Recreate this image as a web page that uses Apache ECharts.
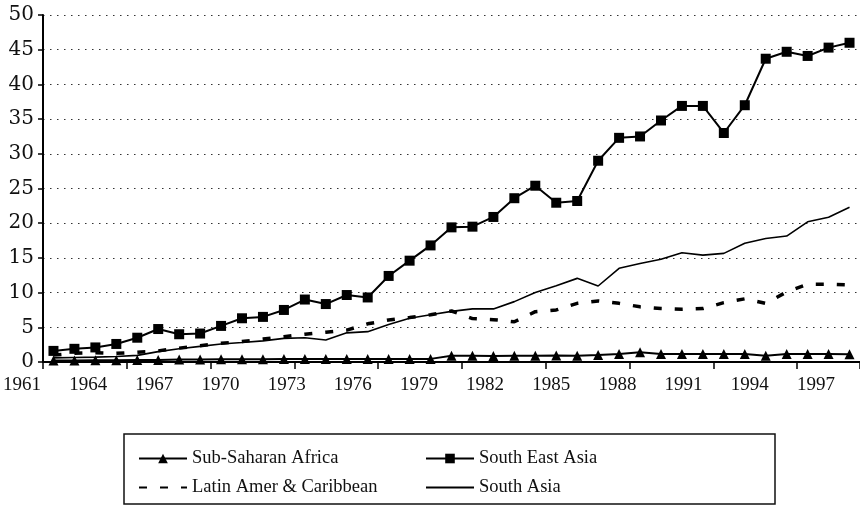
<html>
<head>
<meta charset="utf-8">
<title>Chart</title>
<script src="https://cdn.jsdelivr.net/npm/echarts@6/dist/echarts.min.js"></script>
<style>
body{margin:0;background:#fff;overflow:hidden;}
#main{width:860px;height:506px;}
</style>
</head>
<body>
<div id="main"></div>
<script type="text/javascript">
  var years = ['1961','1962','1963','1964','1965','1966','1967','1968','1969','1970',
    '1971','1972','1973','1974','1975','1976','1977','1978','1979','1980',
    '1981','1982','1983','1984','1985','1986','1987','1988','1989','1990',
    '1991','1992','1993','1994','1995','1996','1997','1998','1999'];

  var subSaharan = [0.2,0.2,0.25,0.25,0.3,0.3,0.35,0.35,0.4,0.4,
    0.4,0.45,0.45,0.45,0.45,0.45,0.45,0.45,0.45,0.9,
    0.9,0.85,0.9,0.9,0.95,0.9,1.0,1.15,1.4,1.15,
    1.15,1.15,1.15,1.15,0.9,1.15,1.15,1.15,1.1];

  var southEastAsia = [1.6,1.9,2.1,2.6,3.5,4.75,4.0,4.1,5.2,6.3,
    6.5,7.5,9.0,8.35,9.65,9.3,12.4,14.6,16.8,19.4,
    19.5,20.9,23.6,25.4,22.95,23.2,29.0,32.3,32.5,34.8,
    36.9,36.9,33.0,37.0,43.7,44.7,44.1,45.3,46.0];

  var latinAmer = [1.0,1.25,1.35,1.25,1.4,1.6,2.0,2.35,2.7,2.95,
    3.3,3.65,4.0,4.3,4.6,5.5,6.05,6.4,6.8,7.35,
    6.25,6.1,5.8,7.25,7.5,8.45,8.8,8.45,7.95,7.7,
    7.6,7.7,8.55,9.1,8.45,10.1,11.2,11.2,11.1];

  var southAsia = [0.6,0.65,0.7,0.8,0.95,1.5,1.9,2.25,2.6,2.8,
    3.05,3.4,3.5,3.17,4.2,4.37,5.4,6.3,6.8,7.3,
    7.65,7.65,8.7,10.0,11.0,12.05,10.95,13.5,14.2,14.8,
    15.75,15.4,15.65,17.1,17.8,18.15,20.2,20.85,22.3];

  var yTicks = {min: 0, max: 50, step: 5};

  var serif = '"Liberation Serif", "DejaVu Serif", serif';
  var legendText = {fontFamily: serif, fontSize: 18.5, color: '#111', lineHeight: 21};

  var chart = echarts.init(document.getElementById('main'));

  var option = {
    animation: false,
    backgroundColor: '#fff',
    grid: [
      {left: 43, top: 15, width: 825, height: 347},
      // label row only, the scan puts year labels slightly off the points
      {left: 22, top: 15, width: 840, height: 347}
    ],
    legend: [{
      data: [
        {name: 'Sub-Saharan Africa'},
        {name: 'Latin Amer & Caribbean', itemStyle: {opacity: 0}}
      ],
      orient: 'vertical',
      left: 138,
      top: 448,
      padding: 0,
      itemWidth: 48,
      itemHeight: 12,
      itemGap: 8,
      selectedMode: false,
      textStyle: legendText
    }, {
      data: [
        {name: 'South East Asia'},
        {name: 'South Asia', itemStyle: {opacity: 0}}
      ],
      orient: 'vertical',
      left: 425,
      top: 448,
      padding: 0,
      itemWidth: 48,
      itemHeight: 12,
      itemGap: 8,
      selectedMode: false,
      textStyle: legendText
    }],
    graphic: [{
      type: 'rect',
      shape: {x: 124, y: 434, width: 651, height: 70},
      style: {fill: 'none', stroke: '#111', lineWidth: 1.5}
    }],
    xAxis: [{
      type: 'category',
      gridIndex: 0,
      data: years,
      boundaryGap: true,
      axisLine: {show: true, lineStyle: {color: '#000', width: 2}},
      axisTick: {show: true, interval: 3, length: 7, lineStyle: {color: '#000', width: 1.5}},
      axisLabel: {show: false},
      splitLine: {show: false}
    }, {
      type: 'category',
      gridIndex: 1,
      data: years,
      boundaryGap: false,
      axisLine: {show: false},
      axisTick: {show: false},
      axisLabel: {
        interval: 2,
        margin: 14,
        fontFamily: serif,
        fontSize: 19,
        color: '#111'
      },
      splitLine: {show: false}
    }],
    yAxis: [{
      type: 'value',
      gridIndex: 0,
      min: yTicks.min,
      max: yTicks.max,
      interval: yTicks.step,
      axisLine: {show: true, lineStyle: {color: '#000', width: 2}},
      axisTick: {show: true, length: 5, lineStyle: {color: '#000', width: 1.5}},
      axisLabel: {margin: 9, fontFamily: '"DejaVu Serif", serif', fontSize: 20, color: '#111'},
      splitLine: {
        show: true,
        lineStyle: {color: '#333', width: 1.2, type: [1.5, 5.5]}
      }
    }, {
      type: 'value',
      gridIndex: 1,
      min: yTicks.min,
      max: yTicks.max,
      show: false
    }],
    series: [{
      name: 'South Asia',
      type: 'line',
      data: southAsia,
      symbol: 'none',
      lineStyle: {color: '#000', width: 1.6},
      itemStyle: {color: '#000'},
      z: 2
    }, {
      name: 'Latin Amer & Caribbean',
      type: 'line',
      data: latinAmer,
      symbol: 'none',
      lineStyle: {color: '#000', width: 3.5, type: [8, 13]},
      itemStyle: {color: '#000'},
      z: 3
    }, {
      name: 'Sub-Saharan Africa',
      type: 'line',
      data: subSaharan,
      symbol: 'triangle',
      symbolSize: 10,
      lineStyle: {color: '#000', width: 2},
      itemStyle: {color: '#000'},
      z: 4
    }, {
      name: 'South East Asia',
      type: 'line',
      data: southEastAsia,
      symbol: 'rect',
      symbolSize: 10,
      lineStyle: {color: '#000', width: 2},
      itemStyle: {color: '#000'},
      z: 5
    }]
  };

  chart.setOption(option);
</script>
</body>
</html>
